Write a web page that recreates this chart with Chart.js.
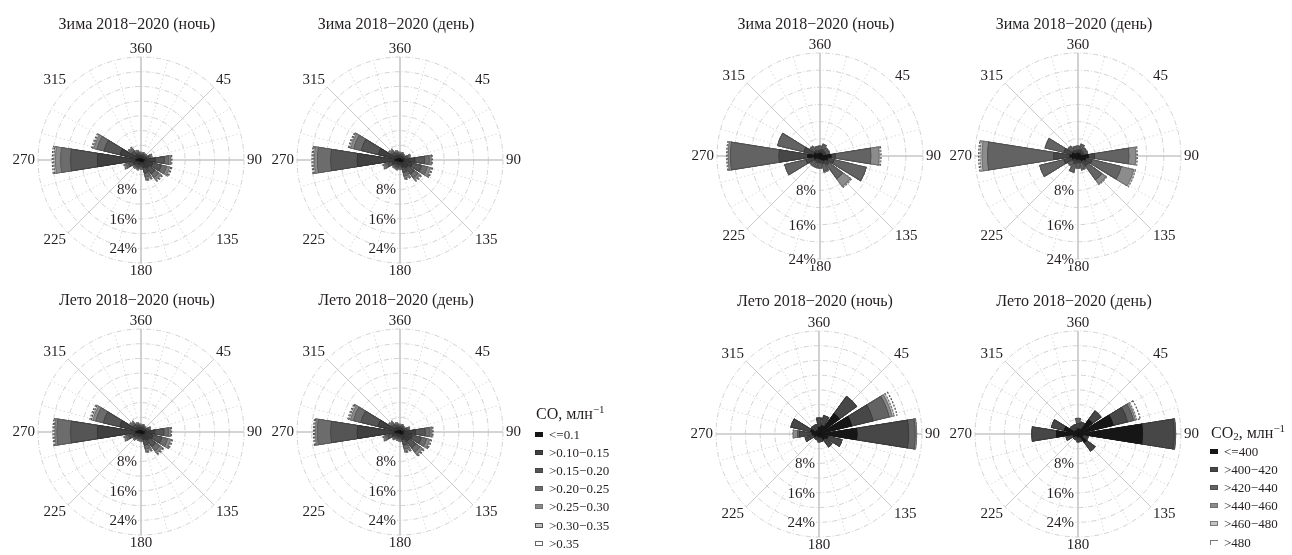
<!DOCTYPE html>
<html>
<head>
<meta charset="utf-8">
<script src="https://cdn.jsdelivr.net/npm/chart.js@4"></script>
<style>
  body { margin: 0; background: #fff; width: 1292px; height: 555px; position: relative; overflow: hidden;
         font-family: "Liberation Serif", "Times New Roman", serif; color: #231f20; }
  canvas { position: absolute; }
  .legend { position: absolute; z-index: 5; }
  .legend .ttl { position: absolute; left: 0; white-space: nowrap; font-size: 16px; line-height: 18px; }
  .legend sup { font-size: 11px; vertical-align: 6px; line-height: 0; }
  .legend sub { font-size: 11px; vertical-align: -2px; line-height: 0; }
  .legend .item { position: absolute; white-space: nowrap; height: 18px; line-height: 18px; font-size: 13px; }
  .legend .sw { position: absolute; left: 0; top: 6px; width: 8px; height: 5px; box-sizing: border-box; }
  .legend .tx { position: absolute; top: 0; }
</style>
</head>
<body>
<script>
// wind directions, 16 sectors
const directions = [0, 22.5, 45, 67.5, 90, 112.5, 135, 157.5, 180, 202.5, 225, 247.5, 270, 292.5, 315, 337.5];
const compassLabels = [0, 45, 90, 135, 180, 225, 270, 315];
const radialTicks = [8, 16, 24];

const coClasses = ["<=0.1", ">0.10\u22120.15", ">0.15\u22120.20", ">0.20\u22120.25", ">0.25\u22120.30", ">0.30\u22120.35", ">0.35"];
const co2Classes = ["<=400", ">400\u2212420", ">420\u2212440", ">440\u2212460", ">460\u2212480", ">480"];

// frequency (%) per concentration class, one row per class, columns follow `directions`
const coWinterNight = [
  [0.5, 0.5, 0.5, 0.6, 1.0, 0.9, 0.8, 0.7, 0.5, 0.6, 0.6, 0.8, 1.5, 1.0, 0.7, 0.6],
  [0.7, 0.7, 0.7, 1.0, 3.0, 2.5, 2.0, 1.6, 0.8, 0.9, 0.9, 1.5, 10.5, 5.0, 1.3, 0.9],
  [0.5, 0.5, 0.5, 0.8, 2.5, 2.4, 2.0, 1.6, 0.7, 0.7, 0.7, 1.3, 7.3, 4.5, 1.2, 0.7],
  [0.3, 0.3, 0.2, 0.5, 1.2, 1.5, 1.3, 1.1, 0.4, 0.4, 0.4, 0.7, 2.7, 2.0, 0.7, 0.4],
  [0.1, 0.1, 0.1, 0.3, 0.5, 0.8, 0.7, 0.5, 0.2, 0.2, 0.2, 0.4, 1.4, 0.8, 0.3, 0.2],
  [0.1, 0.1, 0.1, 0.1, 0.2, 0.4, 0.3, 0.3, 0.1, 0.1, 0.1, 0.2, 0.5, 0.4, 0.2, 0.1],
  [0.1, 0.1, 0.1, 0.1, 0.2, 0.3, 0.3, 0.2, 0.0, 0.1, 0.1, 0.1, 0.4, 0.3, 0.1, 0.1]
];
const coWinterDay = [
  [0.5, 0.5, 0.5, 0.6, 1.0, 1.0, 0.8, 0.7, 0.5, 0.6, 0.6, 0.8, 1.5, 1.0, 0.6, 0.6],
  [0.7, 0.7, 0.6, 0.9, 3.2, 2.6, 2.0, 1.5, 0.8, 0.9, 0.8, 1.5, 10.3, 5.2, 1.1, 0.8],
  [0.5, 0.5, 0.4, 0.8, 2.6, 2.6, 2.1, 1.5, 0.7, 0.7, 0.7, 1.3, 7.2, 4.8, 1.0, 0.7],
  [0.3, 0.3, 0.2, 0.4, 1.3, 1.6, 1.3, 1.0, 0.4, 0.4, 0.4, 0.7, 3.6, 2.1, 0.6, 0.4],
  [0.1, 0.1, 0.1, 0.3, 0.5, 0.8, 0.6, 0.5, 0.2, 0.2, 0.2, 0.4, 0.8, 0.8, 0.3, 0.2],
  [0.1, 0.1, 0.1, 0.1, 0.2, 0.4, 0.3, 0.3, 0.1, 0.1, 0.1, 0.2, 0.4, 0.4, 0.2, 0.1],
  [0.1, 0.1, 0.1, 0.1, 0.2, 0.3, 0.3, 0.2, 0.1, 0.1, 0.1, 0.1, 0.3, 0.3, 0.1, 0.1]
];
const coSummerNight = [
  [0.5, 0.5, 0.5, 0.6, 1.0, 1.0, 0.8, 0.7, 0.5, 0.5, 0.6, 0.8, 1.5, 1.0, 0.6, 0.6],
  [0.7, 0.7, 0.6, 0.9, 2.9, 2.5, 2.1, 1.6, 0.8, 0.8, 0.9, 1.5, 10.5, 5.1, 1.1, 0.8],
  [0.5, 0.5, 0.4, 0.7, 2.5, 2.5, 2.2, 1.6, 0.7, 0.6, 0.7, 1.3, 7.3, 4.6, 1.0, 0.7],
  [0.3, 0.3, 0.2, 0.4, 1.2, 1.6, 1.4, 1.1, 0.4, 0.3, 0.4, 0.7, 3.7, 2.1, 0.6, 0.4],
  [0.1, 0.1, 0.1, 0.2, 0.5, 0.8, 0.7, 0.5, 0.2, 0.2, 0.2, 0.4, 0.5, 0.8, 0.3, 0.2],
  [0.1, 0.1, 0.1, 0.1, 0.2, 0.3, 0.3, 0.3, 0.1, 0.1, 0.1, 0.2, 0.3, 0.5, 0.2, 0.1],
  [0.1, 0.1, 0.1, 0.1, 0.2, 0.3, 0.3, 0.2, 0.1, 0.1, 0.1, 0.1, 0.3, 0.4, 0.1, 0.1]
];
const coSummerDay = [
  [0.5, 0.5, 0.5, 0.6, 1.0, 1.0, 0.9, 0.7, 0.5, 0.5, 0.6, 0.8, 1.5, 1.0, 0.6, 0.6],
  [0.7, 0.7, 0.6, 0.9, 3.3, 2.6, 2.3, 1.6, 0.8, 0.8, 0.8, 1.5, 10.3, 5.3, 1.1, 0.8],
  [0.5, 0.5, 0.4, 0.7, 2.7, 2.5, 2.3, 1.6, 0.7, 0.6, 0.7, 1.3, 7.2, 4.8, 1.0, 0.7],
  [0.3, 0.3, 0.2, 0.4, 1.3, 1.5, 1.4, 1.1, 0.4, 0.3, 0.4, 0.7, 3.6, 2.1, 0.6, 0.4],
  [0.1, 0.1, 0.1, 0.2, 0.5, 0.8, 0.8, 0.5, 0.2, 0.2, 0.2, 0.4, 0.5, 0.8, 0.3, 0.2],
  [0.1, 0.1, 0.1, 0.1, 0.2, 0.3, 0.3, 0.3, 0.1, 0.1, 0.1, 0.2, 0.3, 0.5, 0.2, 0.1],
  [0.1, 0.1, 0.1, 0.1, 0.2, 0.3, 0.3, 0.2, 0.1, 0.1, 0.1, 0.1, 0.3, 0.3, 0.1, 0.1]
];
const co2WinterNight = [
  [0.8, 0.8, 0.8, 0.8, 2.7, 2.0, 1.5, 1.0, 0.8, 0.8, 0.8, 1.5, 3.0, 1.5, 0.8, 0.8],
  [0.7, 0.9, 0.7, 0.7, 1.0, 1.5, 1.2, 1.0, 0.9, 0.9, 0.9, 2.0, 6.7, 2.5, 0.9, 0.7],
  [0.9, 1.2, 0.9, 0.9, 8.3, 7.7, 4.0, 1.8, 1.2, 1.2, 1.2, 5.1, 11.3, 6.3, 1.2, 0.9],
  [0.1, 0.1, 0.1, 0.1, 1.9, 0.0, 2.2, 0.2, 0.1, 0.1, 0.1, 0.0, 0.5, 0.0, 0.1, 0.1],
  [0.0, 0.0, 0.0, 0.0, 0.3, 0.0, 0.3, 0.0, 0.0, 0.0, 0.0, 0.0, 0.2, 0.0, 0.0, 0.0],
  [0.0, 0.0, 0.0, 0.0, 0.2, 0.0, 0.0, 0.0, 0.0, 0.0, 0.0, 0.0, 0.2, 0.0, 0.0, 0.0]
];
const co2WinterDay = [
  [0.8, 0.8, 0.8, 0.8, 2.5, 2.0, 1.5, 0.9, 0.8, 1.0, 0.8, 1.5, 2.0, 1.5, 0.8, 0.8],
  [0.7, 0.9, 0.7, 0.7, 1.5, 1.5, 1.5, 0.9, 0.9, 1.0, 0.9, 2.0, 3.8, 2.0, 0.9, 0.7],
  [0.9, 1.2, 0.9, 0.9, 8.0, 7.0, 4.0, 1.5, 1.2, 2.0, 1.2, 5.8, 15.4, 4.5, 1.2, 0.9],
  [0.1, 0.1, 0.1, 0.1, 1.6, 3.0, 1.2, 0.2, 0.1, 0.0, 0.1, 0.0, 1.3, 0.0, 0.1, 0.1],
  [0.0, 0.0, 0.0, 0.0, 0.2, 0.4, 0.2, 0.0, 0.0, 0.0, 0.0, 0.0, 0.5, 0.0, 0.0, 0.0],
  [0.0, 0.0, 0.0, 0.0, 0.2, 0.0, 0.0, 0.0, 0.0, 0.0, 0.0, 0.0, 0.3, 0.0, 0.0, 0.0]
];
const co2SummerNight = [
  [2.0, 2.5, 7.0, 9.3, 10.5, 2.6, 2.0, 1.0, 1.0, 0.8, 0.8, 1.5, 2.0, 2.5, 1.2, 1.2],
  [2.5, 2.8, 5.8, 6.0, 14.0, 4.0, 2.5, 1.3, 1.3, 1.0, 1.0, 2.5, 3.5, 5.5, 1.6, 1.6],
  [0.0, 0.0, 0.0, 4.5, 1.8, 0.0, 0.0, 0.0, 0.0, 0.0, 0.0, 0.0, 0.5, 0.0, 0.0, 0.0],
  [0.0, 0.0, 0.0, 0.8, 0.4, 0.0, 0.0, 0.0, 0.0, 0.0, 0.0, 0.0, 1.2, 0.0, 0.0, 0.0],
  [0.0, 0.0, 0.0, 0.6, 0.0, 0.0, 0.0, 0.0, 0.0, 0.0, 0.0, 0.0, 0.0, 0.0, 0.0, 0.0],
  [0.0, 0.0, 0.0, 0.8, 0.0, 0.0, 0.0, 0.0, 0.0, 0.0, 0.0, 0.0, 0.0, 0.0, 0.0, 0.0]
];
const co2SummerDay = [
  [1.5, 1.5, 5.0, 10.0, 17.7, 1.5, 3.0, 1.0, 1.0, 0.8, 0.8, 1.5, 6.0, 4.0, 1.2, 1.2],
  [1.5, 2.0, 2.9, 4.0, 8.6, 1.5, 2.9, 1.3, 1.3, 1.0, 1.0, 2.0, 6.7, 3.6, 1.6, 1.6],
  [1.4, 0.0, 0.0, 1.7, 0.4, 0.0, 0.0, 0.0, 0.0, 0.0, 0.0, 0.0, 0.0, 0.0, 0.0, 0.0],
  [0.0, 0.0, 0.0, 0.5, 0.0, 0.0, 0.0, 0.0, 0.0, 0.0, 0.0, 0.0, 0.0, 0.0, 0.0, 0.0],
  [0.0, 0.0, 0.0, 0.4, 0.0, 0.0, 0.0, 0.0, 0.0, 0.0, 0.0, 0.0, 0.0, 0.0, 0.0, 0.0],
  [0.0, 0.0, 0.0, 1.0, 0.0, 0.0, 0.0, 0.0, 0.0, 0.0, 0.0, 0.0, 0.0, 0.0, 0.0, 0.0]
];

// styles
const coColors = ["#161616", "#404040", "#555555", "#6c6c6c", "#8a8a8a", "#c0c0c0", "#ffffff"];
const coEdges = ["#161616", "#333333", "#444444", "#5a5a5a", "#707070", "#555555", "#555555"];
const co2Colors = ["#161616", "#474747", "#636363", "#8c8c8c", "#c4c4c4", "#ffffff"];
const co2Edges = ["#161616", "#3a3a3a", "#505050", "#707070", "#777777", "#555555"];

const panels = [
  { title: "Зима 2018\u22122020 (ночь)", rows: coWinterNight, kind: "co", max: 28, cx: 141, cy: 160, ty: 25, diag: [45, 225] },
  { title: "Зима 2018\u22122020 (день)", rows: coWinterDay, kind: "co", max: 28, cx: 400, cy: 160, ty: 25, diag: [135, 315] },
  { title: "Зима 2018\u22122020 (ночь)", rows: co2WinterNight, kind: "co2", max: 24, cx: 820, cy: 156, ty: 25, diag: [135, 225, 315] },
  { title: "Зима 2018\u22122020 (день)", rows: co2WinterDay, kind: "co2", max: 24, cx: 1078, cy: 156, ty: 25, diag: [135, 225, 315] },
  { title: "Лето 2018\u22122020 (ночь)", rows: coSummerNight, kind: "co", max: 28, cx: 141, cy: 432, ty: 301, diag: [45, 135, 225, 315] },
  { title: "Лето 2018\u22122020 (день)", rows: coSummerDay, kind: "co", max: 28, cx: 400, cy: 432, ty: 301, diag: [135, 315] },
  { title: "Лето 2018\u22122020 (ночь)", rows: co2SummerNight, kind: "co2", max: 28, cx: 819, cy: 434, ty: 302, diag: [45, 135, 225, 315] },
  { title: "Лето 2018\u22122020 (день)", rows: co2SummerDay, kind: "co2", max: 28, cx: 1078, cy: 434, ty: 302, diag: [45, 135, 225, 315] }
];

const INK = "#231f20";
const SERIF = '"Liberation Serif", "Times New Roman", serif';
const rad = (a) => a * Math.PI / 180;

function makeDecor(p) {
  return {
    id: "roseDecor",
    beforeDatasetsDraw(chart) {
      const s = chart.scales.r, ctx = chart.ctx;
      const cx = s.xCenter, cy = s.yCenter, R = s.drawingArea;
      const r0 = s.getDistanceFromCenterForValue(4);
      ctx.save();
      // dotted spokes
      ctx.strokeStyle = "#d0d0d0";
      ctx.lineWidth = 0.8;
      ctx.setLineDash([1.5, 2.5]);
      for (let a = 15; a < 360; a += 15) {
        if (a % 45 === 0) continue;
        ctx.beginPath();
        ctx.moveTo(cx + r0 * Math.sin(rad(a)), cy - r0 * Math.cos(rad(a)));
        ctx.lineTo(cx + R * Math.sin(rad(a)), cy - R * Math.cos(rad(a)));
        ctx.stroke();
      }
      ctx.setLineDash([]);
      // main axes
      ctx.strokeStyle = "#c6c6c6";
      ctx.lineWidth = 1.6;
      ctx.beginPath();
      ctx.moveTo(cx, cy - R); ctx.lineTo(cx, cy + R);
      ctx.moveTo(cx - R, cy); ctx.lineTo(cx + R, cy);
      ctx.stroke();
      ctx.lineWidth = 1;
      ctx.strokeStyle = "#cacaca";
      p.diag.forEach((a) => {
        ctx.beginPath();
        ctx.moveTo(cx, cy);
        ctx.lineTo(cx + R * Math.sin(rad(a)), cy - R * Math.cos(rad(a)));
        ctx.stroke();
      });
      ctx.restore();
    },
    afterDraw(chart) {
      const s = chart.scales.r, ctx = chart.ctx;
      const cx = s.xCenter, cy = s.yCenter, R = s.drawingArea;
      ctx.save();
      ctx.fillStyle = INK;
      ctx.textAlign = "center";
      ctx.textBaseline = "middle";
      ctx.font = "15px " + SERIF;
      compassLabels.forEach((a) => {
        const txt = a === 0 ? "360" : String(a);
        const w = ctx.measureText(txt).width, h = 10;
        const sx = Math.sin(rad(a)), sy = -Math.cos(rad(a));
        const g = R + 3;
        const x = cx + g * sx + Math.sign(Math.round(sx * 10)) * w / 2;
        const y = cy + g * sy + Math.sign(Math.round(sy * 10)) * h / 2;
        ctx.fillText(txt, x, y);
      });
      ctx.textAlign = "right";
      radialTicks.forEach((v) => {
        const r = s.getDistanceFromCenterForValue(v);
        const txt = v + "%";
        const w = ctx.measureText(txt).width;
        ctx.fillStyle = "#fff";
        ctx.fillRect(cx - 5 - w, cy + r - 5, w + 2, 11);
        ctx.fillStyle = INK;
        ctx.fillText(txt, cx - 4, cy + r + 1);
      });
      ctx.textAlign = "center";
      ctx.font = "16px " + SERIF;
      ctx.fillText(p.title, cx - 4, cy - (p.cy - p.ty));
      ctx.restore();
    }
  };
}

panels.forEach((p) => {
  const cv = document.createElement("canvas");
  cv.width = 280;
  cv.height = 283;
  cv.style.left = (p.cx - 140) + "px";
  cv.style.top = (p.cy - 150) + "px";
  document.body.appendChild(cv);

  const colors = p.kind === "co" ? coColors : co2Colors;
  const edges = p.kind === "co" ? coEdges : co2Edges;
  const classes = p.kind === "co" ? coClasses : co2Classes;

  const labels = [];
  directions.forEach((d) => { labels.push(String(d)); labels.push(""); });

  // stack the classes: each dataset holds the cumulative frequency, gap slots hold 0
  let running = directions.map(() => 0);
  const datasets = p.rows.map((row, k) => {
    running = running.map((v, i) => v + row[i]);
    const vals = [];
    running.forEach((v) => { vals.push(+v.toFixed(2)); vals.push(0); });
    const light = k >= classes.length - 2;
    return {
      label: classes[k],
      data: vals,
      backgroundColor: colors[k],
      borderColor: edges[k],
      borderWidth: (c) => (c.dataIndex % 2 ? 0 : (light ? 1 : 0.7)),
      borderAlign: "inner",
      borderDash: light ? [2, 1.5] : [],
      angle: (c) => (c.dataIndex % 2 ? 4.5 : 18)
    };
  });

  new Chart(cv, {
    type: "polarArea",
    data: { labels: labels, datasets: datasets },
    options: {
      responsive: false,
      animation: false,
      events: [],
      layout: { padding: { left: 37, right: 37, top: 47, bottom: 30 } },
      plugins: { legend: { display: false }, tooltip: { enabled: false } },
      scales: {
        r: {
          min: 0,
          max: p.max,
          startAngle: -9,
          ticks: { stepSize: 4, display: false },
          grid: { circular: true, color: "#c6c6c6", lineWidth: 0.8 },
          border: { dash: [5, 2, 1, 2] },
          angleLines: { display: false },
          pointLabels: { display: false }
        }
      }
    },
    plugins: [makeDecor(p)]
  });
});

// legends
function buildLegend(left, titleY, firstRowY, titleHtml, classes, colors, edges, lastStyle) {
  const box = document.createElement("div");
  box.className = "legend";
  box.style.left = left + "px";
  box.style.top = "0px";
  const t = document.createElement("div");
  t.className = "ttl";
  t.style.left = "1px";
  t.style.top = (titleY - 9) + "px";
  t.innerHTML = titleHtml;
  box.appendChild(t);
  classes.forEach((c, i) => {
    const it = document.createElement("div");
    it.className = "item";
    it.style.top = (firstRowY + i * 18.1 - 9) + "px";
    const sw = document.createElement("div");
    sw.className = "sw";
    sw.style.background = colors[i];
    sw.style.border = "1px solid " + edges[i];
    if (i === classes.length - 1) Object.assign(sw.style, lastStyle);
    const tx = document.createElement("span");
    tx.className = "tx";
    tx.style.left = "14px";
    tx.textContent = c;
    it.appendChild(sw);
    it.appendChild(tx);
    box.appendChild(it);
  });
  document.body.appendChild(box);
}

buildLegend(535, 414, 435, "CO, млн<sup>\u22121</sup>", coClasses, coColors, coEdges,
  { border: "1px solid #666" });
buildLegend(1210, 433, 452, "CO<sub>2</sub>, млн<sup>\u22121</sup>", co2Classes, co2Colors, co2Edges,
  { border: "none", borderTop: "1px solid #777", borderLeft: "1px solid #777" });
</script>
</body>
</html>
